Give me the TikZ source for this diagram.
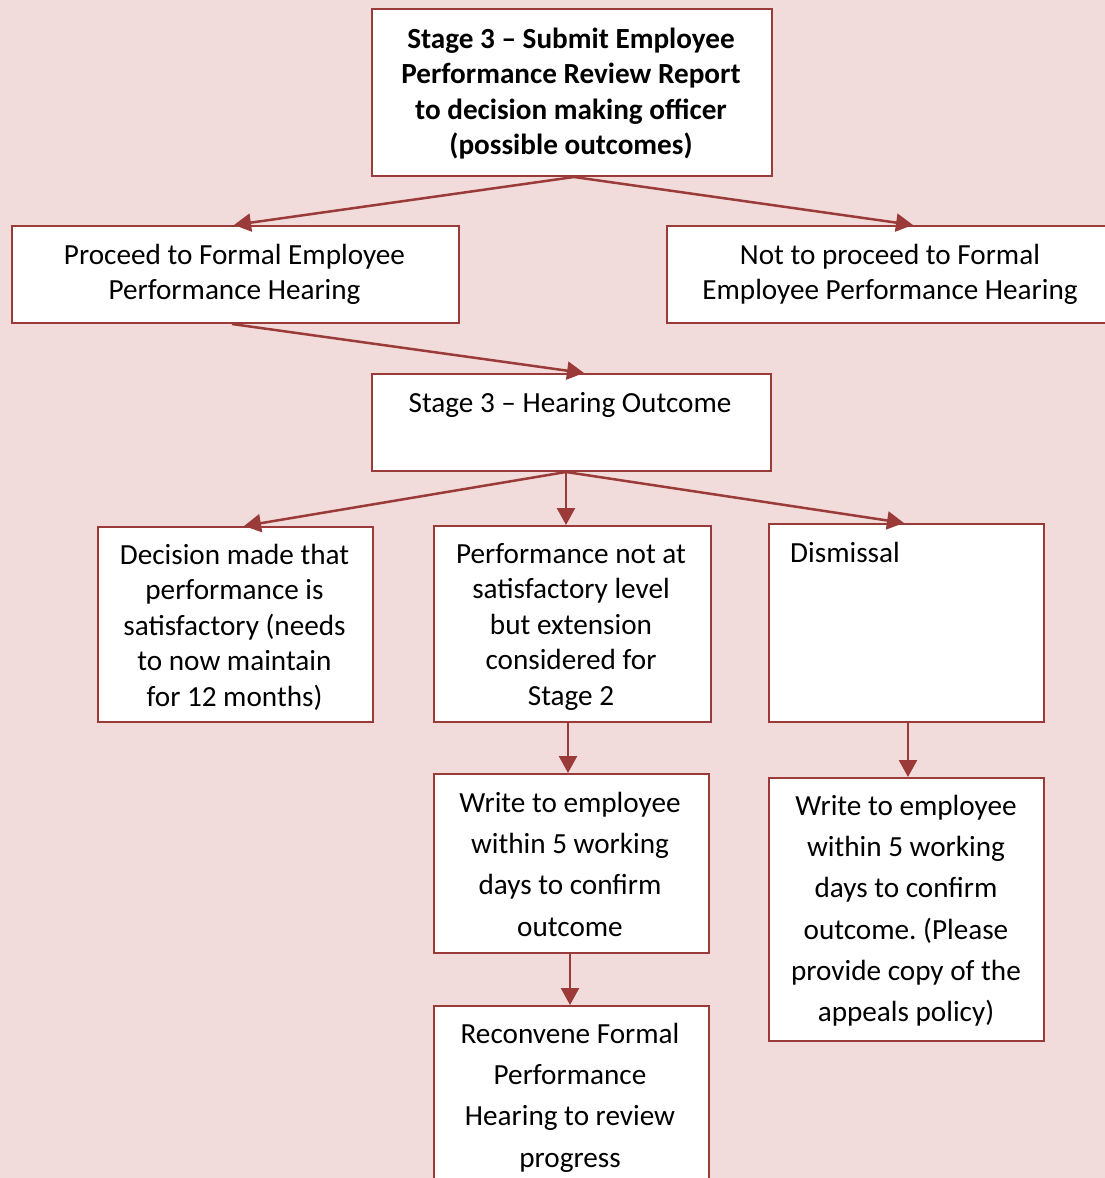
\documentclass[tikz,border=0pt]{standalone}
\usepackage{fontspec}
\setmainfont{Carlito}
\usetikzlibrary{arrows.meta}
\definecolor{pagebg}{HTML}{F2DCDB}
\definecolor{edge}{HTML}{9B3B39}
\tikzset{
  box/.style={draw=edge, line width=2pt, fill=white, rectangle, inner sep=0pt, anchor=north west},
  txt/.style={inner sep=0pt, anchor=north, align=center, font=\fontsize{29.2}{35.6}\selectfont},
  txtwide/.style={inner sep=0pt, anchor=north, align=center, font=\fontsize{29.2}{41.3}\selectfont},
  link/.style={draw=edge, line width=2.5pt, -{Triangle[length=17pt,width=18pt]}},
}
\frenchspacing
\begin{document}
\begin{tikzpicture}[x=1pt,y=-1pt]
\useasboundingbox (0,0) rectangle (1105,1178);
\fill[pagebg] (0,0) rectangle (1105,1178);
\begin{scope}
\clip (0,0) rectangle (1105,1178);
% boxes
\node[box, minimum width=400pt, minimum height=167pt] (submit) at (371,8) {};
\node[box, minimum width=447pt, minimum height=97pt] (proceed) at (11,225) {};
\node[box, minimum width=492pt, minimum height=97pt] (notto) at (666,225) {};
\node[box, minimum width=399pt, minimum height=97pt] (hearing) at (371,373) {};
\node[box, minimum width=275pt, minimum height=195pt] (satisf) at (97,526) {};
\node[box, minimum width=277pt, minimum height=196pt] (extend) at (433,525) {};
\node[box, minimum width=275pt, minimum height=198pt] (dismiss) at (768,523) {};
\node[box, minimum width=275pt, minimum height=179pt] (writeA) at (433,773) {};
\node[box, minimum width=275pt, minimum height=263pt] (writeB) at (768,777) {};
\node[box, minimum width=275pt, minimum height=200pt] (reconv) at (433,1005) {};
\end{scope}
% texts
\node[txt, font=\fontsize{29.2}{35.6}\selectfont\bfseries] (tsubmit) at (571,23)
  {\strut Stage 3 – Submit Employee\\Performance Review Report\\to decision making officer\\(possible outcomes)};
\node[txt] (tproceed) at (234.5,239) {\strut Proceed to Formal Employee\\Performance Hearing};
\node[txt] (tnotto) at (890,239) {\strut Not to proceed to Formal\\Employee Performance Hearing};
\node[txt] (thearing) at (570,387) {\strut Stage 3 – Hearing Outcome};
\node[txt] (tsatisf) at (234.5,539) {\strut Decision made that\\performance is\\satisfactory (needs\\to now maintain\\for 12 months)};
\node[txt] (textend) at (571,538) {\strut Performance not at\\satisfactory level\\but extension\\considered for\\Stage 2};
\node[txt, anchor=north west] (tdismiss) at (790,537) {\strut Dismissal};
\node[txtwide] (twriteA) at (570,783) {\strut Write to employee\\within 5 working\\days to confirm\\outcome};
\node[txtwide] (twriteB) at (906,786) {\strut Write to employee\\within 5 working\\days to confirm\\outcome. (Please\\provide copy of the\\appeals policy)};
\node[txtwide] (treconv) at (570,1014) {\strut Reconvene Formal\\Performance\\Hearing to review\\progress};
% connectors
\draw[link] ([xshift=2pt]submit.south) -- ([xshift=-1.5pt]proceed.north);
\draw[link] ([xshift=2pt]submit.south) -- (notto.north);
\draw[link] ([xshift=-3.5pt]proceed.south) -- ([xshift=12.5pt]hearing.north);
\draw[link] ([xshift=-5.5pt]hearing.south) -- ([xshift=8.5pt]satisf.north);
\draw[link] ([xshift=-5.5pt]hearing.south) -- ([xshift=-6.5pt]extend.north);
\draw[link] ([xshift=-5.5pt]hearing.south) -- ([xshift=-2.5pt]dismiss.north);
\draw[link] ([xshift=-4.5pt]extend.south) -- ([xshift=-3.5pt]writeA.north);
\draw[link] ([xshift=1.5pt]dismiss.south) -- ([xshift=1.5pt]writeB.north);
\draw[link] ([xshift=-1.5pt]writeA.south) -- ([xshift=-1.5pt]reconv.north);
\end{tikzpicture}
\end{document}
